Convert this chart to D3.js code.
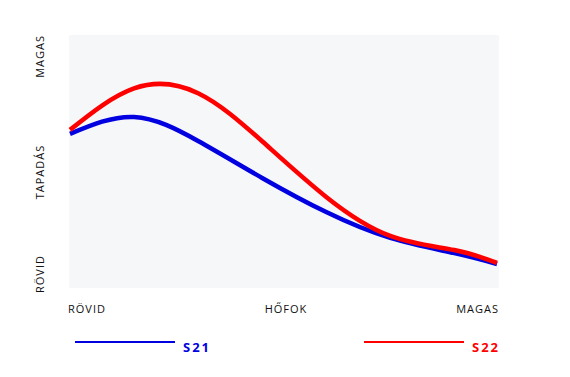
<!DOCTYPE html>
<html>
<head>
<meta charset="utf-8">
<script src="https://cdn.jsdelivr.net/npm/d3@7"></script>
<style>
  body { margin: 0; background: #fff; overflow: hidden; }
  text { font-family: "Open Sans", sans-serif; }
</style>
</head>
<body>
<script>
// x position along the "Hőfok" axis (0 = rövid, 100 = magas)
const xs = [0, 15, 30, 45, 60, 75, 90, 100];
// y position (0 = rövid, 100 = magas)
const s21 = [60.9, 67.6, 58.1, 43.5, 30.0, 19.8, 13.8, 9.5];
const s22 = [62.5, 78.9, 77.0, 58.0, 36.0, 20.6, 15.0, 9.9];

const seriesNames = ["S21", "S22"];
const seriesColors = ["#0000e0", "#ff0000"];
const xLabels = ["RÖVID", "HŐFOK", "MAGAS"];
const yLabels = ["RÖVID", "TAPADÁS", "MAGAS"];

const width = 570, height = 377;
const plot = {left: 69, right: 499, top: 35, bottom: 288};

const svg = d3.select("body").append("svg")
    .attr("width", width)
    .attr("height", height);

svg.append("rect")
    .attr("x", plot.left)
    .attr("y", plot.top)
    .attr("width", plot.right - plot.left)
    .attr("height", plot.bottom - plot.top)
    .attr("fill", "#f6f7f9");

const xScale = d3.scaleLinear().domain([0, 100]).range([plot.left + 1, plot.right - 2]);
const yScale = d3.scaleLinear().domain([0, 100]).range([plot.bottom, plot.top]);

const line = d3.line()
    .x((d) => xScale(d[0]))
    .y((d) => yScale(d[1]))
    .curve(d3.curveNatural);

[s21, s22].forEach(function (vals, i) {
    svg.append("path")
        .attr("d", line(xs.map((x, j) => [x, vals[j]])))
        .attr("fill", "none")
        .attr("stroke", seriesColors[i])
        .attr("stroke-width", 4.5);
});

// x axis labels
const xAnchors = ["start", "middle", "end"];
const xPos = [plot.left - 1, (plot.left + plot.right) / 2 + 2, plot.right];
xLabels.forEach(function (t, i) {
    svg.append("text")
        .attr("x", xPos[i])
        .attr("y", 313)
        .attr("text-anchor", xAnchors[i])
        .attr("font-size", 11)
        .attr("letter-spacing", 1)
        .attr("fill", "#111")
        .text(t);
});

// y axis labels (bottom to top)
const yAnchors = ["start", "middle", "end"];
const yPos = [293, 172, 35];
yLabels.forEach(function (t, i) {
    svg.append("text")
        .attr("transform", "translate(44," + yPos[i] + ") rotate(-90)")
        .attr("text-anchor", yAnchors[i])
        .attr("font-size", 11)
        .attr("letter-spacing", 1)
        .attr("fill", "#111")
        .text(t);
});

// legend
const legendX = [75, 364];
seriesNames.forEach(function (name, i) {
    svg.append("line")
        .attr("x1", legendX[i])
        .attr("x2", legendX[i] + 100)
        .attr("y1", 342)
        .attr("y2", 342)
        .attr("stroke", seriesColors[i])
        .attr("stroke-width", 2);
    svg.append("text")
        .attr("x", legendX[i] + 108)
        .attr("y", 352)
        .attr("font-size", 13)
        .attr("font-weight", "bold")
        .attr("letter-spacing", 2)
        .attr("fill", seriesColors[i])
        .text(name);
});
</script>
</body>
</html>
